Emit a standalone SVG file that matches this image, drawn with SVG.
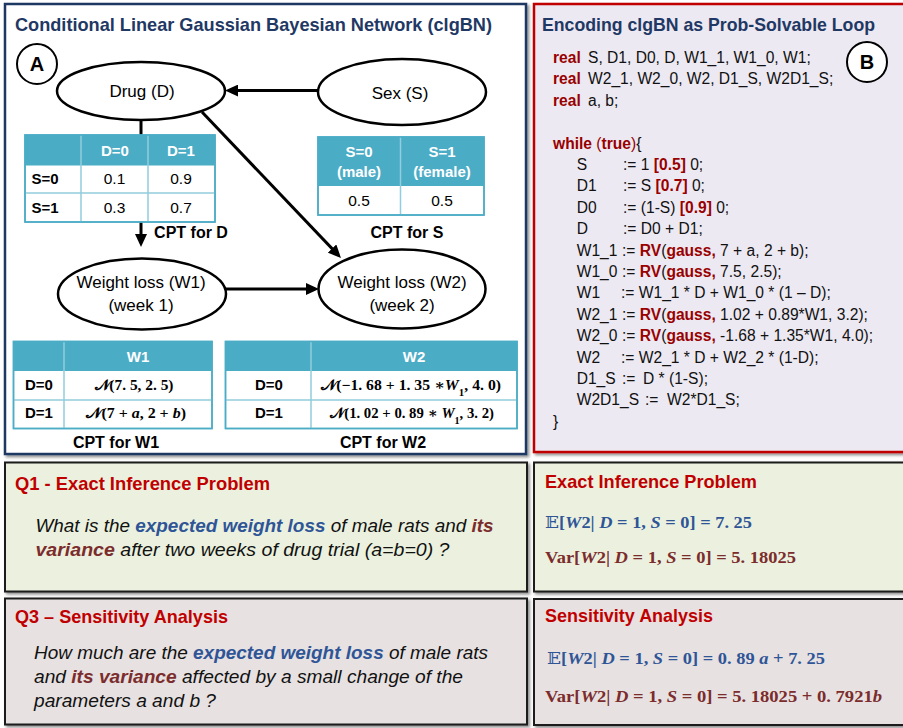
<svg xmlns="http://www.w3.org/2000/svg" width="903" height="728" viewBox="0 0 903 728">
<defs>
<filter id="sh" x="-5%" y="-5%" width="110%" height="110%"><feDropShadow dx="2" dy="2" stdDeviation="1.5" flood-color="#000" flood-opacity="0.45"/></filter>
<marker id="ah" markerWidth="14" markerHeight="12" refX="9" refY="6" orient="auto" markerUnits="userSpaceOnUse"><path d="M0,0 L13,6 L0,12 z" fill="#000"/></marker>
</defs>
<style>
.ttl{font-family:"Liberation Sans",Arial,sans-serif;font-weight:bold;font-size:18.5px;fill:#1f3864;}
.red{font-family:"Liberation Sans",Arial,sans-serif;font-weight:bold;font-size:18.5px;fill:#c00000;}
.node{fill:#fff;stroke:#000;stroke-width:2.5;}
.lbl{font-family:"Liberation Sans",Arial,sans-serif;font-size:17px;fill:#000;text-anchor:middle;}
.cap{font-family:"Liberation Sans",Arial,sans-serif;font-size:16px;font-weight:bold;fill:#000;text-anchor:middle;}
.hd{fill:#4bacc6;}
.cell{fill:#fff;stroke:#4bacc6;stroke-width:1.5;}
.grid{stroke:#92cddc;stroke-width:1.5;fill:none;}
.th{font-family:"Liberation Sans",Arial,sans-serif;font-size:15px;font-weight:bold;fill:#fff;text-anchor:middle;}
.rl{font-family:"Liberation Sans",Arial,sans-serif;font-size:15px;font-weight:bold;fill:#000;text-anchor:middle;}
.v{font-family:"Liberation Sans",Arial,sans-serif;font-size:15.5px;fill:#000;text-anchor:middle;}
.m{font-family:"Liberation Serif","DejaVu Serif","DejaVu Sans",serif;font-weight:bold;font-size:14.5px;fill:#000;text-anchor:middle;}
.i{font-style:italic;}
.code{font-family:"Liberation Sans",Arial,sans-serif;font-size:15.6px;fill:#111;}
.kw{font-weight:bold;fill:#990000;}
.kr{fill:#990000;}
.conn{stroke:#000;stroke-width:3;fill:none;}
.body{font-family:"Liberation Sans",Arial,sans-serif;font-size:18.5px;font-style:italic;fill:#111;}
.eb{font-weight:bold;fill:#2f5597;}
.vb{font-weight:bold;fill:#7b2c2c;}
.eq{font-family:"Liberation Serif","DejaVu Serif","DejaVu Sans",serif;font-size:17px;font-weight:bold;}
.badge{fill:#fff;stroke:#000;stroke-width:2;}
.bl{font-family:"Liberation Sans",Arial,sans-serif;font-size:20px;font-weight:bold;fill:#000;text-anchor:middle;}
</style>

<!-- Panels -->
<g id="panel-a">
<rect x="5" y="4" width="521" height="450" fill="#fff" stroke="#1f3864" stroke-width="2.5" filter="url(#sh)"/>
<text class="ttl" x="15" y="31" textLength="477" lengthAdjust="spacingAndGlyphs">Conditional Linear Gaussian Bayesian Network (clgBN)</text>
<circle class="badge" cx="37" cy="64" r="20"/>
<text class="bl" x="37" y="71">A</text>
</g>
<g id="panel-b">
<rect x="534" y="4" width="380" height="448" fill="#ece9f2" stroke="#c00000" stroke-width="2.5" filter="url(#sh)"/>
<text class="ttl" x="542" y="31" textLength="333" lengthAdjust="spacingAndGlyphs">Encoding clgBN as Prob-Solvable Loop</text>
<circle class="badge" cx="867" cy="62" r="20"/>
<text class="bl" x="867" y="69">B</text>
</g>

<!-- Connectors -->
<g id="connectors">
<line class="conn" x1="318" y1="90.6" x2="229" y2="90.6" marker-end="url(#ah)"/>
<line class="conn" x1="141" y1="120" x2="141" y2="243" marker-end="url(#ah)"/>
<line class="conn" x1="202" y1="112" x2="338.2" y2="255.1" marker-end="url(#ah)"/>
<line class="conn" x1="226" y1="289" x2="315" y2="289" marker-end="url(#ah)"/>
</g>

<!-- Nodes -->
<g id="node-drug">
<ellipse class="node" cx="141" cy="91" rx="84" ry="29"/>
<text class="lbl" x="142" y="97">Drug (D)</text>
</g>
<g id="node-sex">
<ellipse class="node" cx="402" cy="92" rx="84" ry="33"/>
<text class="lbl" x="400" y="99">Sex (S)</text>
</g>
<g id="node-w1">
<ellipse class="node" cx="142" cy="294" rx="84" ry="35.5"/>
<text class="lbl" x="141" y="288">Weight loss (W1)</text>
<text class="lbl" x="141" y="311">(week 1)</text>
</g>
<g id="node-w2">
<ellipse class="node" cx="402" cy="289" rx="83.5" ry="39.5"/>
<text class="lbl" x="402" y="288">Weight loss (W2)</text>
<text class="lbl" x="402" y="311">(week 2)</text>
</g>

<!-- CPT for D -->
<g id="cpt-d">
<rect class="cell" x="25" y="135" width="190" height="87"/>
<rect class="hd" x="25" y="135" width="190" height="30.5"/>
<path class="grid" d="M81,135 V222 M148,135 V222 M25,193 H215"/>
<rect x="25" y="135" width="190" height="87" fill="none" stroke="#4bacc6" stroke-width="1.5"/>
<text class="th" x="115" y="156">D=0</text>
<text class="th" x="181" y="156">D=1</text>
<text class="rl" x="45" y="184">S=0</text>
<text class="rl" x="45" y="213">S=1</text>
<text class="v" x="114.5" y="184">0.1</text>
<text class="v" x="181" y="184">0.9</text>
<text class="v" x="114.5" y="213">0.3</text>
<text class="v" x="181" y="213">0.7</text>
<text class="cap" x="191" y="238">CPT for D</text>
</g>

<!-- CPT for S -->
<g id="cpt-s">
<rect class="cell" x="318" y="137" width="166" height="78"/>
<rect class="hd" x="318" y="137" width="166" height="49"/>
<path class="grid" d="M400.5,137 V215"/>
<rect x="318" y="137" width="166" height="78" fill="none" stroke="#4bacc6" stroke-width="1.5"/>
<text class="th" x="359" y="157">S=0</text>
<text class="th" x="359" y="177">(male)</text>
<text class="th" x="442" y="157">S=1</text>
<text class="th" x="442" y="177">(female)</text>
<text class="v" x="359" y="206">0.5</text>
<text class="v" x="442" y="206">0.5</text>
<text class="cap" x="407" y="238">CPT for S</text>
</g>

<!-- CPT for W1 -->
<g id="cpt-w1">
<rect class="cell" x="13.5" y="341.5" width="198.5" height="87"/>
<rect class="hd" x="13.5" y="341.5" width="198.5" height="29.5"/>
<path class="grid" d="M64,341.5 V428.5 M13.5,400 H212"/>
<rect x="13.5" y="341.5" width="198.5" height="87" fill="none" stroke="#4bacc6" stroke-width="1.5"/>
<text class="th" x="138" y="362">W1</text>
<text class="rl" x="39" y="390">D=0</text>
<text class="rl" x="39" y="418">D=1</text>
<text class="m" x="134" y="390" textLength="79" lengthAdjust="spacingAndGlyphs">𝒩(7. 5, 2. 5)</text>
<text class="m" x="136" y="418" textLength="100" lengthAdjust="spacingAndGlyphs">𝒩(7 + <tspan class="i">a</tspan>, 2 + <tspan class="i">b</tspan>)</text>
<text class="cap" x="116" y="448">CPT for W1</text>
</g>

<!-- CPT for W2 -->
<g id="cpt-w2">
<rect class="cell" x="225.5" y="341.5" width="291.5" height="87"/>
<rect class="hd" x="225.5" y="341.5" width="291.5" height="29.5"/>
<path class="grid" d="M311,341.5 V428.5 M225.5,400 H517"/>
<rect x="225.5" y="341.5" width="291.5" height="87" fill="none" stroke="#4bacc6" stroke-width="1.5"/>
<text class="th" x="414" y="362">W2</text>
<text class="rl" x="269" y="390">D=0</text>
<text class="rl" x="269" y="418">D=1</text>
<text class="m" x="411" y="390" textLength="180" lengthAdjust="spacingAndGlyphs">𝒩(−1. 68 + 1. 35  ∗<tspan class="i">W</tspan><tspan baseline-shift="sub" font-size="10">1</tspan>, 4. 0)</text>
<text class="m" x="412" y="418" textLength="164" lengthAdjust="spacingAndGlyphs">𝒩(1. 02 + 0. 89 ∗ <tspan class="i">W</tspan><tspan baseline-shift="sub" font-size="10">1</tspan>, 3. 2)</text>
<text class="cap" x="383" y="448">CPT for W2</text>
</g>

<!-- Code -->
<g id="code" class="code">
<text x="553" y="63"><tspan class="kw">real</tspan></text><text x="588" y="63">S, D1, D0, D, W1_1, W1_0, W1;</text>
<text x="553" y="84.4"><tspan class="kw">real</tspan></text><text x="588" y="84.4">W2_1, W2_0, W2, D1_S, W2D1_S;</text>
<text x="553" y="105.8"><tspan class="kw">real</tspan></text><text x="588" y="105.8">a, b;</text>
<text x="553" y="148.6"><tspan class="kw">while</tspan> <tspan class="kr">(</tspan><tspan class="kw">true</tspan><tspan class="kr">)</tspan>{</text>
<text x="576.7" y="170">S</text><text x="623" y="170">:= 1 <tspan class="kw">[0.5]</tspan> 0;</text>
<text x="576.7" y="191.4">D1</text><text x="623" y="191.4">:= S <tspan class="kw">[0.7]</tspan> 0;</text>
<text x="576.7" y="212.8">D0</text><text x="623" y="212.8">:= (1-S) <tspan class="kw">[0.9]</tspan> 0;</text>
<text x="576.7" y="234.2">D</text><text x="623" y="234.2">:= D0 + D1;</text>
<text x="576.7" y="255.6">W1_1</text><text x="622" y="255.6">:= <tspan class="kw">RV</tspan>(<tspan class="kw">gauss,</tspan> 7 + a, 2 + b);</text>
<text x="576.7" y="277">W1_0</text><text x="622" y="277">:= <tspan class="kw">RV</tspan>(<tspan class="kw">gauss,</tspan> 7.5, 2.5);</text>
<text x="576.7" y="298.4">W1</text><text x="621" y="298.4">:= W1_1 * D + W1_0 * (1 – D);</text>
<text x="576.7" y="319.8">W2_1</text><text x="622" y="319.8">:= <tspan class="kw">RV</tspan>(<tspan class="kw">gauss,</tspan> 1.02 + 0.89*W1, 3.2);</text>
<text x="576.7" y="341.2">W2_0</text><text x="622" y="341.2">:= <tspan class="kw">RV</tspan>(<tspan class="kw">gauss,</tspan> -1.68 + 1.35*W1, 4.0);</text>
<text x="576.7" y="362.6">W2</text><text x="621" y="362.6">:= W2_1 * D + W2_2 * (1-D);</text>
<text x="576.7" y="384">D1_S</text><text x="622" y="384">:=</text><text x="643" y="384">D * (1-S);</text>
<text x="576.7" y="405.4">W2D1_S</text><text x="645" y="405.4">:=</text><text x="667" y="405.4">W2*D1_S;</text>
<text x="553" y="426.8">}</text>
</g>

<!-- Q1 -->
<g id="q1">
<rect x="5" y="462.5" width="522" height="129" fill="#ebf1de" stroke="#1a1a1a" stroke-width="2" filter="url(#sh)"/>
<text class="red" x="15" y="490" textLength="255" lengthAdjust="spacingAndGlyphs">Q1 - Exact Inference Problem</text>
<text class="body" x="35.5" y="532" textLength="458" lengthAdjust="spacingAndGlyphs">What is the <tspan class="eb">expected weight loss</tspan> of male rats and <tspan class="vb">its</tspan></text>
<text class="body" x="35.5" y="556" textLength="414" lengthAdjust="spacingAndGlyphs"><tspan class="vb">variance</tspan> after two weeks of drug trial (a=b=0) ?</text>
</g>

<!-- Exact inference answer -->
<g id="exact">
<rect x="534" y="462.5" width="380" height="129" fill="#ebf1de" stroke="#1a1a1a" stroke-width="2" filter="url(#sh)"/>
<text class="red" x="545" y="488" textLength="212" lengthAdjust="spacingAndGlyphs">Exact Inference Problem</text>
<text class="eq" x="545" y="528" fill="#2f5597" textLength="207" lengthAdjust="spacingAndGlyphs"><tspan font-weight="normal">𝔼</tspan>[<tspan class="i">W</tspan>2| <tspan class="i">D</tspan> = 1, <tspan class="i">S</tspan> = 0] = 7. 25</text>
<text class="eq" x="545" y="563" fill="#7b2c2c" textLength="251" lengthAdjust="spacingAndGlyphs">Var[<tspan class="i">W</tspan>2| <tspan class="i">D</tspan> = 1, <tspan class="i">S</tspan> = 0] = 5. 18025</text>
</g>

<!-- Q3 -->
<g id="q3">
<rect x="5" y="598.5" width="522" height="126" fill="#e7e1e1" stroke="#1a1a1a" stroke-width="2" filter="url(#sh)"/>
<text class="red" x="15" y="623" textLength="213" lengthAdjust="spacingAndGlyphs">Q3 – Sensitivity Analysis</text>
<text class="body" x="34" y="659" textLength="454" lengthAdjust="spacingAndGlyphs">How much are the <tspan class="eb">expected weight loss</tspan> of male rats</text>
<text class="body" x="34" y="683" textLength="429" lengthAdjust="spacingAndGlyphs">and <tspan class="vb">its variance</tspan> affected by a small change of the</text>
<text class="body" x="34" y="706.5" textLength="182" lengthAdjust="spacingAndGlyphs">parameters a and b ?</text>
</g>

<!-- Sensitivity answer -->
<g id="sensitivity">
<rect x="534" y="599" width="380" height="126" fill="#e7e1e1" stroke="#1a1a1a" stroke-width="2" filter="url(#sh)"/>
<text class="red" x="545" y="622" textLength="168" lengthAdjust="spacingAndGlyphs">Sensitivity Analysis</text>
<text class="eq" x="547" y="664" fill="#2f5597" textLength="278" lengthAdjust="spacingAndGlyphs"><tspan font-weight="normal">𝔼</tspan>[<tspan class="i">W</tspan>2| <tspan class="i">D</tspan> = 1, <tspan class="i">S</tspan> = 0] = 0. 89 <tspan class="i">a</tspan> + 7. 25</text>
<text class="eq" x="545" y="702" fill="#7b2c2c" textLength="337" lengthAdjust="spacingAndGlyphs">Var[<tspan class="i">W</tspan>2| <tspan class="i">D</tspan> = 1, <tspan class="i">S</tspan> = 0] = 5. 18025 + 0. 7921<tspan class="i">b</tspan></text>
</g>
</svg>
